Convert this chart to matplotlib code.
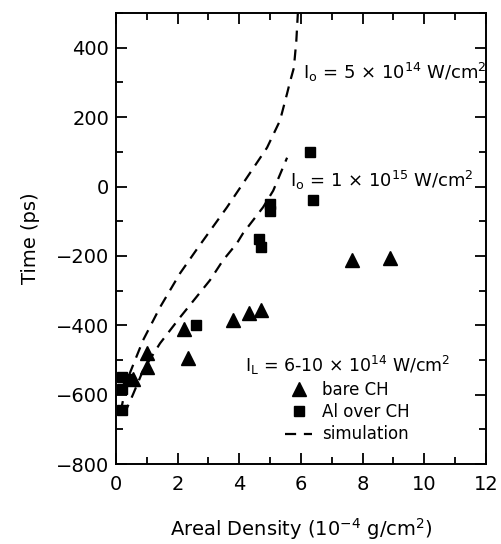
import matplotlib
matplotlib.use('Agg')
import matplotlib.pyplot as plt
from matplotlib.ticker import MultipleLocator

plt.rcParams['font.family'] = ['DejaVu Sans']
plt.rcParams['mathtext.default'] = 'regular'

# datos medidos
bare_x = [0.55, 1.0, 1.0, 2.2, 2.35, 3.8, 4.3, 4.7, 7.65, 8.9]
bare_y = [-555, -480, -520, -410, -495, -385, -365, -355, -213, -205]

al_x = [0.2, 0.4, 0.2, 0.2, 2.6, 4.65, 4.7, 5.0, 5.0, 6.3, 6.4]
al_y = [-550, -555, -585, -645, -400, -150, -175, -50, -72, 100, -40]

# simulaciones (trazadas)
sim5e14_x = [0.15, 0.23, 0.45, 0.88, 1.43, 2.08, 2.63, 3.6, 4.25, 4.9, 5.32, 5.55, 5.64, 5.77, 5.85, 5.9]
sim5e14_y = [-650, -616, -538, -443, -348, -250, -180, -60, 26, 112, 190, 268, 300, 342, 420, 500]

sim1e15_x = [0.2, 0.35, 0.55, 0.88, 1.43, 2.08, 3.05, 3.47, 3.92, 4.12, 4.77, 5.1, 5.55]
sim1e15_y = [-655, -640, -600, -530, -452, -377, -270, -213, -164, -135, -60, -12, 83]

fig = plt.figure(figsize=(5.02, 5.44), dpi=100)
ax = fig.add_axes([0.231, 0.147, 0.737, 0.829])

ax.plot(sim5e14_x, sim5e14_y, 'k--', lw=1.6, dashes=(5, 3.5))
ax.plot(sim1e15_x, sim1e15_y, 'k--', lw=1.6, dashes=(5, 3.5), label='simulation')
ax.plot(bare_x, bare_y, 'k^', ms=10, ls='none', label='bare CH')
ax.plot(al_x, al_y, 'ks', ms=7.5, ls='none', label='Al over CH')

ax.set_xlim(0, 12)
ax.set_ylim(-800, 500)
ax.set_yticks([-800, -600, -400, -200, 0, 200, 400])
ax.xaxis.set_major_locator(MultipleLocator(2))
ax.xaxis.set_minor_locator(MultipleLocator(1))
ax.yaxis.set_minor_locator(MultipleLocator(100))
ax.tick_params(which='both', direction='in', top=True, right=True, width=1.3, labelsize=14)
ax.tick_params(which='major', length=8)
ax.tick_params(which='minor', length=5)
ax.tick_params(axis='x', which='major', pad=8)
ax.tick_params(axis='y', which='major', pad=5)
for s in ax.spines.values():
    s.set_linewidth(1.4)

ax.set_xlabel('Areal Density (10$^{-4}$ g/cm$^2$)', fontsize=14, labelpad=16)
ax.set_ylabel('Time (ps)', fontsize=14, labelpad=11)

ax.text(6.07, 328, '$I_o$ = 5 × 10$^{14}$ W/cm$^2$', fontsize=13, va='center', clip_on=False)
ax.text(5.64, 17, '$I_o$ = 1 × 10$^{15}$ W/cm$^2$', fontsize=13, va='center', clip_on=False)

h, l = ax.get_legend_handles_labels()
order = [1, 2, 0]
leg = ax.legend([h[i] for i in order], [l[i] for i in order],
                title='$I_L$ = 6-10 × 10$^{14}$ W/cm$^2$', title_fontsize=12.5,
                fontsize=12, frameon=False, loc='lower right',
                bbox_to_anchor=(0.935, 0.02), handlelength=1.6, handletextpad=0.6,
                labelspacing=0.25, borderpad=0.2)

fig.savefig('out.png', dpi=100)
